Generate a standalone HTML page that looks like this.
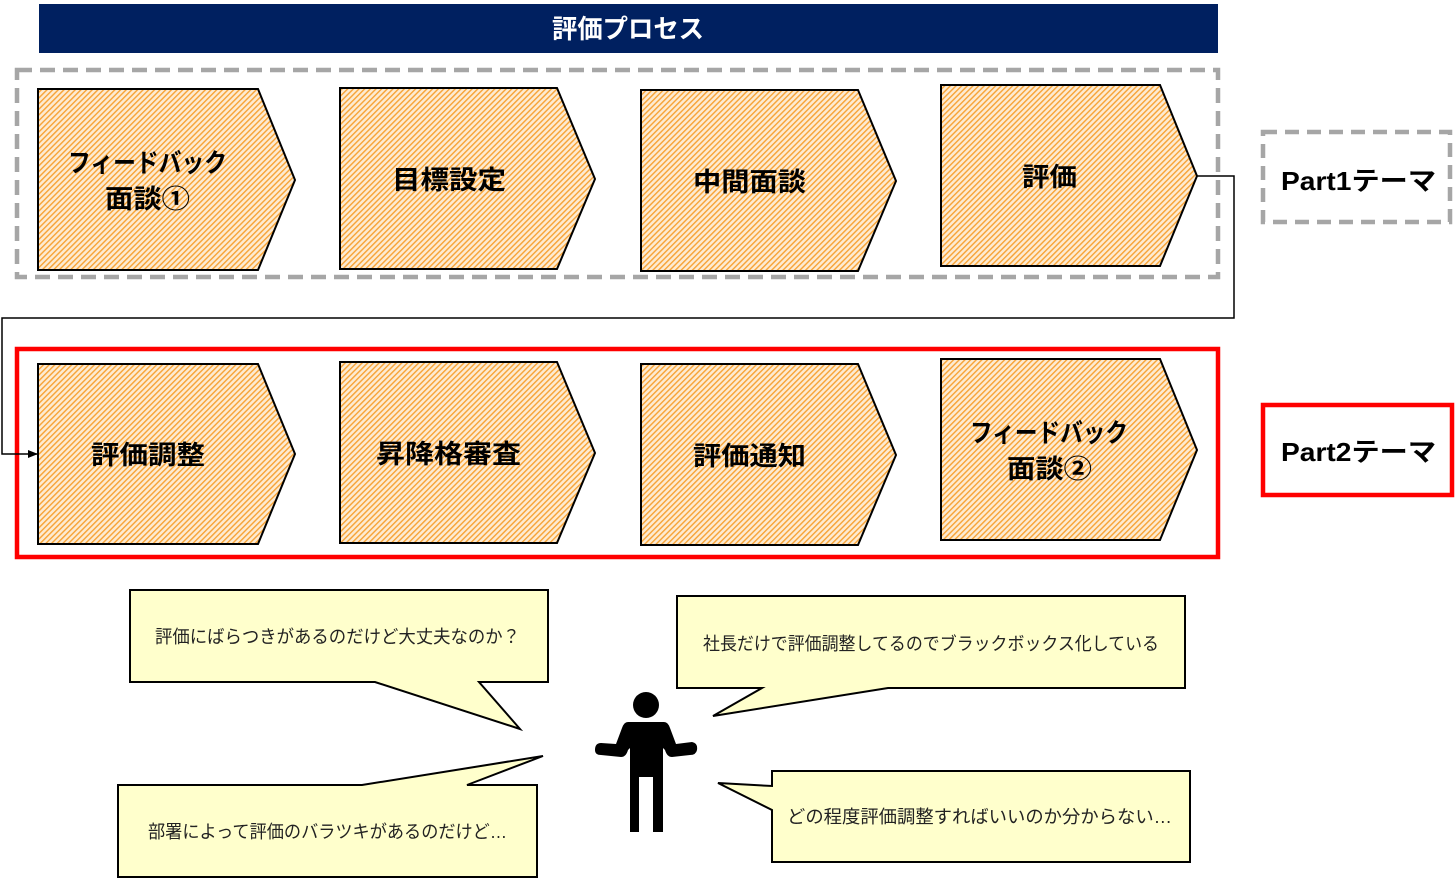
<!DOCTYPE html>
<html><head><meta charset="utf-8"><style>
html,body{margin:0;padding:0;background:#fff;}
svg{display:block;}
text{font-family:"Liberation Sans","Noto Sans CJK JP",sans-serif;}
.b{font-weight:bold;font-size:26px;fill:#000;}
.s{font-size:18px;fill:#222;}
</style></head><body>
<svg width="1456" height="878" viewBox="0 0 1456 878" xmlns="http://www.w3.org/2000/svg">
<defs>
<pattern id="h" width="4" height="4" patternUnits="userSpaceOnUse" patternTransform="rotate(-45)">
<rect width="4" height="4" fill="#fdebd2"/>
<rect width="4" height="1.4" fill="#f7a234"/>
</pattern>
<marker id="ar" markerWidth="10" markerHeight="10" refX="9" refY="5" orient="auto" markerUnits="userSpaceOnUse">
<path d="M0,1 L10,5 L0,9 z" fill="#000"/>
</marker>
</defs>
<rect x="39" y="4" width="1179" height="49" fill="#002060"/>
<text x="628" y="38" text-anchor="middle" font-weight="bold" font-size="26" fill="#fff" textLength="152" lengthAdjust="spacingAndGlyphs">評価プロセス</text>

<rect x="17" y="70" width="1201" height="207" fill="none" stroke="#a6a6a6" stroke-width="4.5" stroke-dasharray="15,8"/>
<rect x="17" y="349" width="1201" height="208" fill="none" stroke="#ff0000" stroke-width="4.5"/>

<g fill="url(#h)" stroke="#000" stroke-width="2">
<path d="M38,89 L258,89 L295,180 L258,270 L38,270 Z"/>
<path d="M340,88 L557,88 L595,179 L557,269 L340,269 Z"/>
<path d="M641,90 L858,90 L896,181 L858,271 L641,271 Z"/>
<path d="M941,85 L1160,85 L1197,176 L1160,266 L941,266 Z"/>
<path d="M38,364 L258,364 L295,454 L258,544 L38,544 Z"/>
<path d="M340,362 L557,362 L595,453 L557,543 L340,543 Z"/>
<path d="M641,364 L858,364 L896,455 L858,545 L641,545 Z"/>
<path d="M941,359 L1160,359 L1197,450 L1160,540 L941,540 Z"/>
</g>
<text class="b" x="68" y="172" textLength="159" lengthAdjust="spacingAndGlyphs">フィードバック</text>
<text class="b" x="105" y="208" textLength="85" lengthAdjust="spacingAndGlyphs">面談①</text>
<text class="b" x="392" y="189" textLength="114" lengthAdjust="spacingAndGlyphs">目標設定</text>
<text class="b" x="693" y="191" textLength="113" lengthAdjust="spacingAndGlyphs">中間面談</text>
<text class="b" x="1022" y="186" textLength="55" lengthAdjust="spacingAndGlyphs">評価</text>
<text class="b" x="91" y="464" textLength="114" lengthAdjust="spacingAndGlyphs">評価調整</text>
<text class="b" x="376" y="463" textLength="145" lengthAdjust="spacingAndGlyphs">昇降格審査</text>
<text class="b" x="693" y="465" textLength="113" lengthAdjust="spacingAndGlyphs">評価通知</text>
<text class="b" x="970" y="442" textLength="158" lengthAdjust="spacingAndGlyphs">フィードバック</text>
<text class="b" x="1007" y="478" textLength="85" lengthAdjust="spacingAndGlyphs">面談②</text>

<path d="M1197,176 L1234,176 L1234,318 L2,318 L2,454 L37,454" fill="none" stroke="#000" stroke-width="1.5" marker-end="url(#ar)"/>

<rect x="1263" y="132" width="187" height="90" fill="#fff" stroke="#a6a6a6" stroke-width="4.5" stroke-dasharray="14,8"/>
<text class="b" x="1281" y="190" font-size="29" textLength="155" lengthAdjust="spacingAndGlyphs">Part1テーマ</text>
<rect x="1263" y="405" width="189" height="90" fill="#fff" stroke="#ff0000" stroke-width="4.5"/>
<text class="b" x="1281" y="461" font-size="29" textLength="155" lengthAdjust="spacingAndGlyphs">Part2テーマ</text>

<g fill="#ffffcc" stroke="#000" stroke-width="2">
<path d="M130,590 L548,590 L548,682 L479,682 L520,729 L375,682 L130,682 Z"/>
<path d="M118,785 L362,785 L543,756 L467,785 L537,785 L537,877 L118,877 Z"/>
<path d="M677,596 L1185,596 L1185,688 L888,688 L713,716 L762,688 L677,688 Z"/>
<path d="M772,771 L1190,771 L1190,862 L772,862 L772,810 L718,783 L772,786 Z"/>
</g>
<text class="s" x="155" y="643" textLength="365" lengthAdjust="spacingAndGlyphs">評価にばらつきがあるのだけど大丈夫なのか？</text>
<text class="s" x="148" y="838" textLength="359" lengthAdjust="spacingAndGlyphs">部署によって評価のバラツキがあるのだけど…</text>
<text class="s" x="703" y="650" textLength="456" lengthAdjust="spacingAndGlyphs">社長だけで評価調整してるのでブラックボックス化している</text>
<text class="s" x="787" y="823" textLength="385" lengthAdjust="spacingAndGlyphs">どの程度評価調整すればいいのか分からない…</text>

<g fill="#000">
<circle cx="646" cy="705" r="13"/>
<path d="M628,722 L664,722 Q668,722 670,728 L676,744 L692,742 Q698,743 697,750 Q696,755 690,755 L672,757 Q667,757 665,750 L663,748 L663,832 L653,832 L653,777 L639,777 L639,832 L630,832 L630,748 L628,750 Q626,757 621,757 L601,755 Q595,755 595,750 Q595,743 601,743 L616,744 L622,728 Q624,722 628,722 Z"/>
</g>
</svg>
</body></html>
